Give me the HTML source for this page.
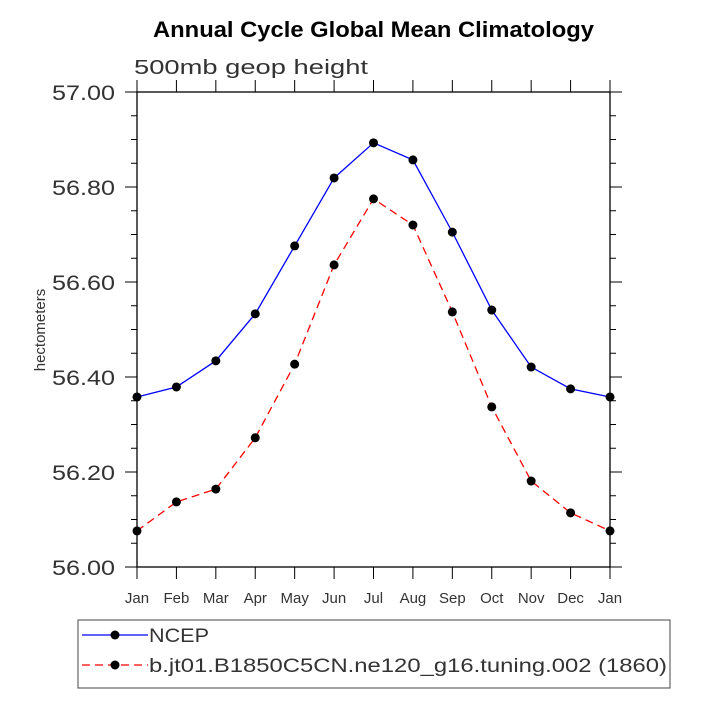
<!DOCTYPE html>
<html><head><meta charset="utf-8"><style>
body{margin:0;background:#fff}
svg text{font-family:"Liberation Sans",sans-serif}
</style></head><body>
<svg id="chart" width="703" height="703" xmlns="http://www.w3.org/2000/svg">
<text x="153" y="37" font-size="22" font-weight="bold" textLength="441" lengthAdjust="spacingAndGlyphs">Annual Cycle Global Mean Climatology</text>
<text x="134" y="74" font-size="20" fill="#333" textLength="234" lengthAdjust="spacingAndGlyphs">500mb geop height</text>
<text transform="translate(45,330) rotate(-90)" text-anchor="middle" font-size="15" fill="#333">hectometers</text>
<g id="axes"></g>
<g id="series"></g>
<rect x="78" y="620" width="592" height="68" fill="none" stroke="#444" stroke-width="1"/>
<g>
<line x1="82" y1="635" x2="148" y2="635" stroke="#00f" stroke-width="1.3"/>
<circle cx="115" cy="635" r="4.5" fill="#000"/>
<text x="149" y="642" font-size="19" fill="#333" textLength="60" lengthAdjust="spacingAndGlyphs">NCEP</text></g>
<g>
<line x1="82" y1="665" x2="148" y2="665" stroke="#f00" stroke-width="1.3" stroke-dasharray="8,5"/>
<circle cx="115" cy="665" r="4.5" fill="#000"/>
<text x="149" y="672" font-size="19" fill="#333" textLength="518" lengthAdjust="spacingAndGlyphs">b.jt01.B1850C5CN.ne120_g16.tuning.002 (1860)</text></g>
</svg>
<script>
const months=["Jan","Feb","Mar","Apr","May","Jun","Jul","Aug","Sep","Oct","Nov","Dec","Jan"];
const ncep=[56.358,56.379,56.434,56.533,56.676,56.819,56.893,56.857,56.705,56.541,56.421,56.375,56.358];
const model=[56.076,56.137,56.164,56.272,56.427,56.636,56.775,56.72,56.537,56.337,56.181,56.114,56.076];
const yTicks=[56.0,56.2,56.4,56.6,56.8,57.0];
const yTickLabels=["56.00","56.20","56.40","56.60","56.80","57.00"];
const X0=137,X1=610,Y0=567,Y1=92,ymin=56,ymax=57;
const xs=i=>X0+(X1-X0)*i/(months.length-1);
const ys=v=>Y0-(v-ymin)/(ymax-ymin)*(Y0-Y1);
const NS="http://www.w3.org/2000/svg";
function mk(p,t,a){const e=document.createElementNS(NS,t);for(const k in a)e.setAttribute(k,a[k]);p.appendChild(e);return e;}
const ax=document.getElementById('axes');
const frame=mk(ax,'rect',{x:X0,y:Y1,width:X1-X0,height:Y0-Y1,fill:'none',stroke:'#000','stroke-width':1.3});


for(let v=ymin;v<=ymax+1e-9;v+=0.05){
  const major=Math.abs(v*5-Math.round(v*5))<1e-6;const L=major?12:6;const y=ys(v);
  mk(ax,'line',{x1:X0-L,y1:y,x2:X0,y2:y,stroke:'#000'});
  mk(ax,'line',{x1:X1,y1:y,x2:X1+L,y2:y,stroke:'#000'});
}
yTicks.forEach((v,i)=>{const t=mk(ax,'text',{x:52,y:ys(v)+8,'font-size':21,fill:'#333',textLength:63,lengthAdjust:'spacingAndGlyphs'});t.textContent=yTickLabels[i];

});
months.forEach((m,i)=>{const x=xs(i);
  mk(ax,'line',{x1:x,y1:Y0,x2:x,y2:Y0+12,stroke:'#000'});
  mk(ax,'line',{x1:x,y1:Y1-12,x2:x,y2:Y1,stroke:'#000'});
  const t=mk(ax,'text',{x:x,y:Y0+36,'text-anchor':'middle','font-size':15,fill:'#333'});t.textContent=m;
  
  });
const sg=document.getElementById('series');
function series(d,color,dash,name){
  const g=mk(sg,'g',{});
  
  
  const a={points:d.map((v,i)=>xs(i)+','+ys(v)).join(' '),fill:'none',stroke:color,'stroke-width':1.3};
  if(dash)a['stroke-dasharray']=dash;
  mk(g,'polyline',a);
  d.forEach((v,i)=>{const c=mk(g,'circle',{cx:xs(i),cy:ys(v),r:4.5,fill:'#000'});
    
    });
}
series(ncep,'#00f',null,'ncep-series');
series(model,'#f00','8,5','model-series');
</script>
</body></html>
